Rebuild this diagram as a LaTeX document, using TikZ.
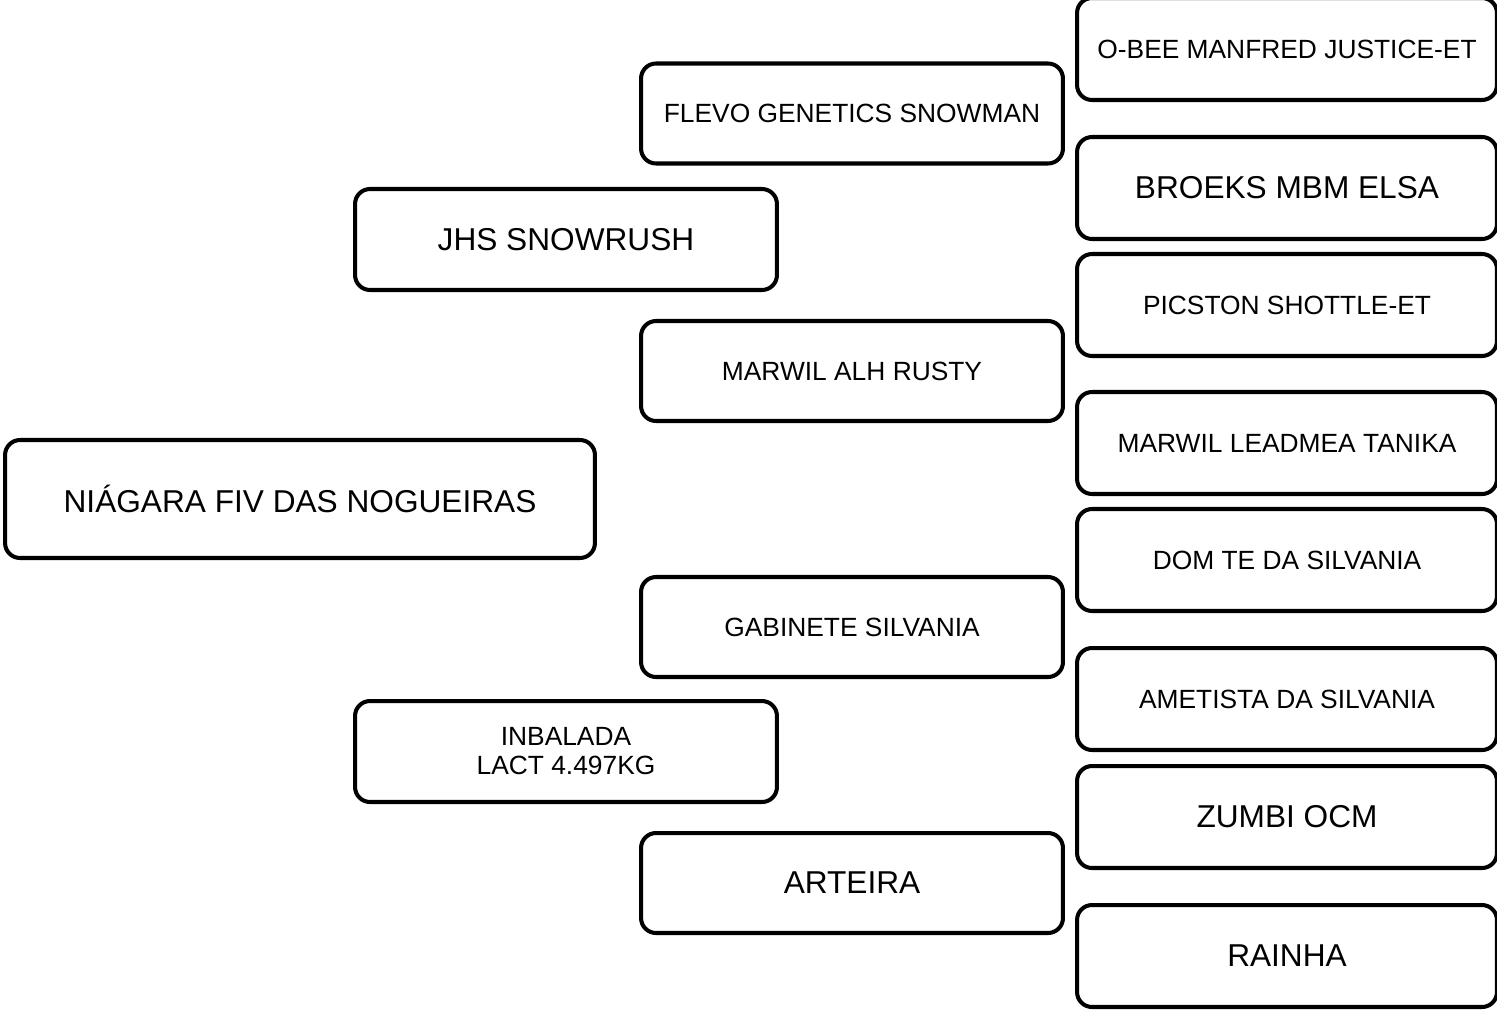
\documentclass[tikz,border=0pt]{standalone}
\usepackage{fontspec}
\setmainfont{Liberation Sans}
\usetikzlibrary{calc}

\begin{document}
\begin{tikzpicture}[x=0.02cm,y=-0.02cm,
    box/.style={draw=black,fill=white,line width=2.3pt,rounded corners=0.3cm,
      minimum width=8.4cm,minimum height=2.04cm,inner sep=0pt,align=center,
      font=\fontsize{15}{16.5}\selectfont},
    big/.style={font=\fontsize{18}{20}\selectfont}]
    \useasboundingbox[fill=white] (0,0) rectangle (1497,1011);

    \node[box,big,minimum width=11.8cm,minimum height=2.36cm] (r) at (300,499) {NIÁGARA FIV DAS NOGUEIRAS};

    \node[box,big,minimum width=8.44cm,minimum height=2.02cm] (s) at (566,239.5) {JHS SNOWRUSH};
    \node[box,minimum width=8.44cm,minimum height=2.02cm] (d) at (566,751.5) {INBALADA\\LACT 4.497KG};

    \node[box,minimum width=8.44cm,minimum height=2cm] (ss) at (852,113.5) {FLEVO GENETICS SNOWMAN};
    \node[box,minimum width=8.44cm,minimum height=2cm] (sd) at (852,371) {MARWIL ALH RUSTY};
    \node[box,minimum width=8.44cm,minimum height=2cm] (ds) at (852,627) {GABINETE SILVANIA};
    \node[box,big,minimum width=8.44cm,minimum height=2cm] (dd) at (852,883) {ARTEIRA};

    \node[box] (sss) at (1287,49) {O-BEE MANFRED JUSTICE-ET};
    \node[box,big] (ssd) at (1287,188) {BROEKS MBM ELSA};
    \node[box] (sds) at (1287,305) {PICSTON SHOTTLE-ET};
    \node[box] (sdd) at (1287,443) {MARWIL LEADMEA TANIKA};
    \node[box] (dss) at (1287,560) {DOM TE DA SILVANIA};
    \node[box] (dsd) at (1287,699) {AMETISTA DA SILVANIA};
    \node[box,big] (dds) at (1287,817) {ZUMBI OCM};
    \node[box,big] (ddd) at (1287,956) {RAINHA};

  \end{tikzpicture}
\end{document}
